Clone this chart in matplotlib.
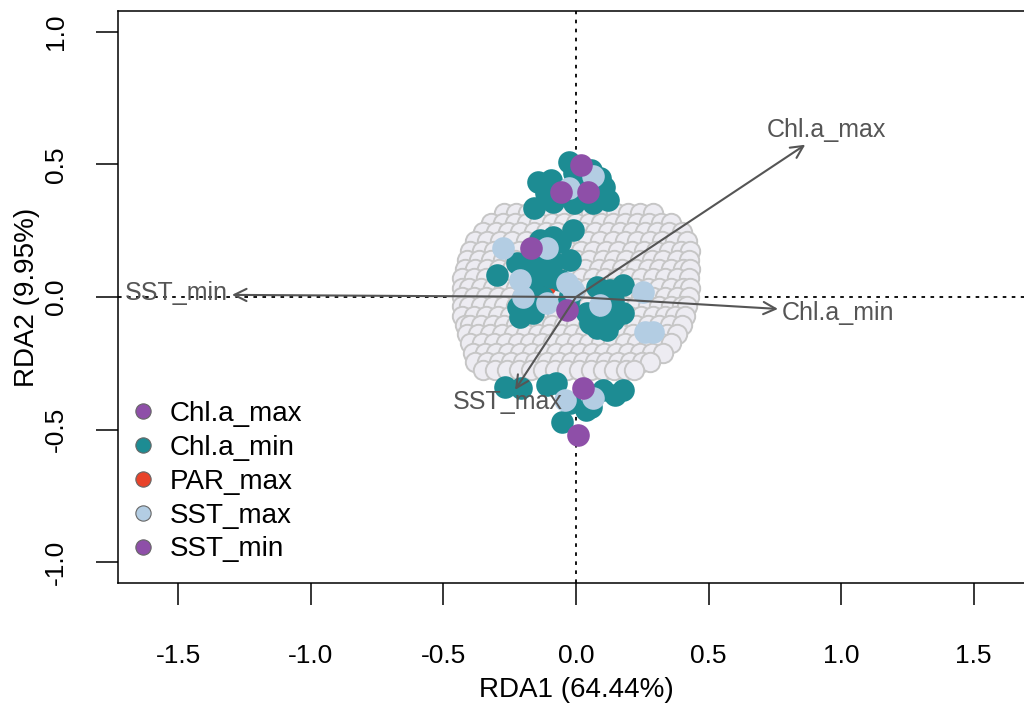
import matplotlib
matplotlib.use("Agg")
import matplotlib.pyplot as plt
from matplotlib.lines import Line2D

plt.rcParams['font.family'] = ['Liberation Sans', 'DejaVu Sans']
plt.rcParams['axes.unicode_minus'] = False

# site scores (grey background cloud), one row per y level
grey_rows_y = [0.315, 0.28, 0.245, 0.21, 0.175, 0.14, 0.105, 0.07, 0.035, 0.0,
               -0.035, -0.07, -0.105, -0.14, -0.175, -0.21, -0.245, -0.275]
grey_rows_x = [
    [-0.27, -0.225, -0.18, -0.13, -0.085, -0.04, 0.01, 0.055, 0.10, 0.15, 0.195, 0.24, 0.29],
    [-0.32, -0.275, -0.23, -0.185, -0.14, -0.09, -0.045, 0.0, 0.05, 0.095, 0.14, 0.185, 0.23, 0.275, 0.32, 0.36],
    [-0.35, -0.30, -0.255, -0.21, -0.16, -0.115, -0.07, -0.02, 0.025, 0.07, 0.12, 0.165, 0.21, 0.26, 0.305, 0.35, 0.40],
    [-0.38, -0.335, -0.285, -0.24, -0.19, -0.145, -0.10, -0.05, -0.005, 0.045, 0.09, 0.14, 0.185, 0.23, 0.28, 0.325, 0.375, 0.42],
    [-0.40, -0.355, -0.31, -0.26, -0.215, -0.17, -0.12, -0.075, -0.025, 0.02, 0.065, 0.115, 0.16, 0.21, 0.255, 0.30, 0.35, 0.395, 0.43],
    [-0.41, -0.365, -0.32, -0.275, -0.23, -0.18, -0.135, -0.09, -0.04, 0.005, 0.05, 0.10, 0.145, 0.19, 0.24, 0.285, 0.33, 0.38, 0.425],
    [-0.42, -0.38, -0.335, -0.29, -0.24, -0.195, -0.15, -0.10, -0.055, -0.01, 0.035, 0.085, 0.13, 0.175, 0.225, 0.27, 0.315, 0.36, 0.405, 0.43],
    [-0.43, -0.385, -0.34, -0.295, -0.25, -0.205, -0.16, -0.115, -0.07, -0.025, 0.02, 0.065, 0.11, 0.155, 0.20, 0.245, 0.29, 0.335, 0.38, 0.425],
    [-0.43, -0.405, -0.36, -0.315, -0.27, -0.225, -0.18, -0.135, -0.09, -0.045, 0.0, 0.045, 0.09, 0.135, 0.18, 0.225, 0.27, 0.315, 0.36, 0.405, 0.43],
    [-0.43, -0.385, -0.34, -0.295, -0.25, -0.205, -0.16, -0.115, -0.07, -0.025, 0.02, 0.065, 0.11, 0.155, 0.20, 0.245, 0.29, 0.335, 0.38, 0.425],
    [-0.43, -0.405, -0.36, -0.315, -0.27, -0.225, -0.18, -0.135, -0.09, -0.045, 0.0, 0.045, 0.09, 0.135, 0.18, 0.225, 0.27, 0.315, 0.36, 0.40, 0.42],
    [-0.43, -0.385, -0.34, -0.295, -0.25, -0.205, -0.16, -0.115, -0.07, -0.025, 0.02, 0.065, 0.11, 0.155, 0.20, 0.245, 0.29, 0.335, 0.375, 0.41],
    [-0.42, -0.40, -0.36, -0.315, -0.27, -0.225, -0.18, -0.135, -0.09, -0.045, 0.0, 0.045, 0.09, 0.135, 0.18, 0.225, 0.27, 0.315, 0.355, 0.40],
    [-0.41, -0.37, -0.325, -0.28, -0.235, -0.19, -0.145, -0.10, -0.055, -0.01, 0.035, 0.08, 0.125, 0.17, 0.215, 0.26, 0.305, 0.345, 0.38],
    [-0.40, -0.355, -0.31, -0.265, -0.22, -0.175, -0.13, -0.085, -0.04, 0.005, 0.05, 0.095, 0.14, 0.185, 0.23, 0.275, 0.32, 0.36],
    [-0.39, -0.345, -0.30, -0.255, -0.21, -0.165, -0.12, -0.075, -0.03, 0.015, 0.06, 0.105, 0.15, 0.195, 0.24, 0.285, 0.33],
    [-0.38, -0.335, -0.29, -0.245, -0.20, -0.155, -0.11, -0.065, -0.02, 0.025, 0.07, 0.115, 0.16, 0.205, 0.25, 0.28],
    [-0.35, -0.305, -0.26, -0.215, -0.17, -0.125, -0.08, -0.035, 0.01, 0.055, 0.10, 0.145, 0.19, 0.22],
]

# highlighted sites by driving variable
chl_min_x = [-0.028, -0.009, 0.055, -0.096, -0.142, -0.115, 0.104, -0.085, -0.009, 0.066, 0.119,
             -0.160, 0.02, 0.092,
             -0.011, -0.087, -0.06, -0.136, -0.023, -0.223, -0.087, -0.147, -0.298, -0.185,
             -0.162, -0.098, -0.06, -0.185, -0.219, -0.162, -0.211, -0.023, -0.03, 0.079,
             0.128, 0.177, 0.14, 0.042, 0.053, 0.079, 0.128, 0.177, 0.117, 0.14, -0.12,
             -0.13, -0.16,
             -0.266, -0.209, -0.108, -0.077, -0.021, -0.051, 0.055, 0.1, 0.149, 0.179, 0.036]
chl_min_y = [0.509, 0.468, 0.479, 0.442, 0.434, 0.392, 0.415, 0.358, 0.355, 0.355, 0.366,
             0.336, 0.42, 0.449,
             0.253, 0.226, 0.208, 0.215, 0.14, 0.128, 0.132, 0.132, 0.083, 0.094,
             0.064, 0.075, 0.064, 0.026, -0.038, -0.06, -0.075, 0.008, -0.023, 0.038,
             0.026, 0.045, -0.011, -0.06, -0.098, -0.117, -0.06, -0.06, -0.125, -0.087, 0.10,
             0.0, 0.02,
             -0.34, -0.343, -0.332, -0.325, -0.4, -0.472, -0.415, -0.351, -0.37, -0.351, -0.426]

sst_max_x = [-0.028, 0.066, -0.275, -0.11, -0.211, -0.034, -0.011, -0.11, 0.253, 0.091,
             0.26, 0.29, -0.2, -0.04, 0.066]
sst_max_y = [0.411, 0.457, 0.185, 0.185, 0.064, 0.053, 0.026, -0.023, 0.019, -0.03,
             -0.132, -0.132, 0.0, -0.389, -0.381]

chl_max_x = [0.017, -0.058, 0.047, -0.17]
chl_max_y = [0.498, 0.396, 0.396, 0.185]

sst_min_x = [-0.034, 0.028, 0.009]
sst_min_y = [-0.049, -0.343, -0.521]

par_max_x = [-0.117, -0.198]
par_max_y = [0.045, -0.004]

# biplot arrows for environmental variables
env_names = ['Chl.a_max', 'Chl.a_min', 'SST_min', 'SST_max']
env_x = [0.865, 0.762, -1.298, -0.23]
env_y = [0.574, -0.045, 0.008, -0.35]
env_lab_x = [0.943, 0.99, -1.508, -0.259]
env_lab_y = [0.630, -0.06, 0.015, -0.396]

legend_names = ['Chl.a_max', 'Chl.a_min', 'PAR_max', 'SST_max', 'SST_min']

teal = '#1D8C93'
purple = '#8E4FA8'
lblue = '#B3CDE3'
red = '#E8432A'
legend_cols = [purple, teal, red, lblue, purple]

fig = plt.figure(figsize=(10.24, 7.06), dpi=100)
ax = fig.add_axes([118 / 1024, 123 / 706, 916 / 1024, 572 / 706])

ax.axhline(0, color='black', linestyle=(0, (2, 3)), lw=1.3, zorder=1)
ax.axvline(0, color='black', linestyle=(0, (2, 3)), lw=1.3, zorder=1)

gx, gy = [], []
for yv, row in zip(grey_rows_y, grey_rows_x):
    gx += row
    gy += [yv] * len(row)
ax.scatter(gx, gy, s=195, facecolor='#EDECF2', edgecolor='#C6C6C6', linewidth=1.4, zorder=2)

pt = 265
ax.scatter(par_max_x, par_max_y, s=pt, color=red, linewidth=0, zorder=3)
ax.scatter(chl_min_x, chl_min_y, s=pt, color=teal, linewidth=0, zorder=3)
ax.scatter(sst_max_x, sst_max_y, s=pt, color=lblue, linewidth=0, zorder=3)
ax.scatter(chl_max_x, chl_max_y, s=pt, color=purple, linewidth=0, zorder=3)
ax.scatter(sst_min_x, sst_min_y, s=pt, color=purple, linewidth=0, zorder=3)

arrow_col = '#555555'
for name, x, y, lx, ly in zip(env_names, env_x, env_y, env_lab_x, env_lab_y):
    ax.annotate('', xy=(x, y), xytext=(0, 0),
                arrowprops=dict(arrowstyle='->', color=arrow_col, lw=1.5,
                                mutation_scale=22, shrinkA=0, shrinkB=0),
                zorder=5)
    ax.text(lx, ly, name, color=arrow_col, fontsize=18, ha='center', va='center', zorder=6)

handles = [Line2D([], [], marker='o', linestyle='', markersize=11,
                  markerfacecolor=c, markeredgecolor='#666666', markeredgewidth=0.8)
           for c in legend_cols]
ax.legend(handles, legend_names, loc='center left', bbox_to_anchor=(0.012, 0.177),
          frameon=False, fontsize=20, handlelength=1.0, handletextpad=0.45,
          borderpad=0, borderaxespad=0, labelspacing=0.28)

ax.set_xlim(-1.728, 1.728)
ax.set_ylim(-1.078, 1.078)
ax.set_xticks([-1.5, -1.0, -0.5, 0.0, 0.5, 1.0, 1.5])
ax.set_yticks([-1.0, -0.5, 0.0, 0.5, 1.0])
ax.tick_params(direction='out', length=16, width=1.1, labelsize=19)
ax.tick_params(axis='x', pad=28)
ax.tick_params(axis='y', pad=20)
for lab in ax.get_yticklabels():
    lab.set_rotation(90)
    lab.set_va('center')
for sp in ax.spines.values():
    sp.set_linewidth(1.1)

ax.set_xlabel('RDA1 (64.44%)', fontsize=20)
ax.set_ylabel('RDA2 (9.95%)', fontsize=20)
ax.xaxis.set_label_coords(0.5, -0.165)
ax.yaxis.set_label_coords(-0.085, 0.5)

fig.savefig('out.png', dpi=100)
